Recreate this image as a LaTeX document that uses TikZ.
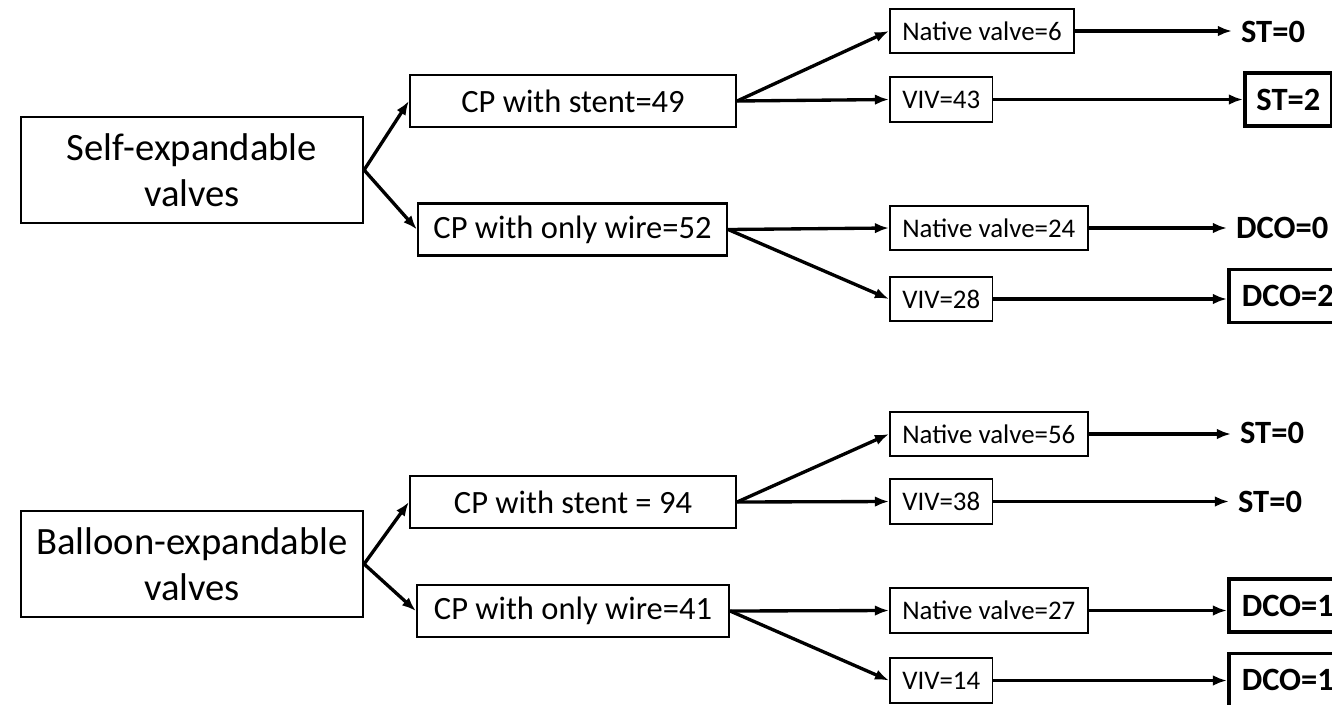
\documentclass[tikz,border=0pt]{standalone}
\usepackage{fontspec}
\setmainfont{Carlito}
\usetikzlibrary{arrows.meta}

\begin{document}
\begin{tikzpicture}[x=0.02cm,y=-0.02cm,
  typebox/.style={draw,line width=1.3pt,inner sep=0pt,align=center,
    minimum width=6.84cm,minimum height=2.12cm,font=\fontsize{22}{26}\selectfont},
  cpbox/.style={draw,line width=1.3pt,inner sep=0pt,minimum height=1.04cm,
    font=\fontsize{18.5}{22}\selectfont},
  subbox/.style={draw,line width=1.1pt,inner xsep=7pt,inner ysep=0pt,
    minimum height=0.89cm,font=\fontsize{15.3}{18}\selectfont},
  outtext/.style={inner xsep=5pt,inner ysep=0pt,
    font=\fontsize{18.5}{22}\selectfont\bfseries},
  outbox/.style={outtext,draw,line width=2.1pt,minimum height=1.06cm},
  link/.style={-{Latex[length=8pt,width=6pt]},line width=1.9pt}]
  \useasboundingbox (0,0) rectangle (1332,704);
  \clip (0,0) rectangle (1332,704);

  % Valve types
  \node[typebox] (self) at (192,170) {Self-expandable\\valves};
  \node[typebox] (balloon) at (192,564) {Balloon-expandable\\valves};

  % Cerebral protection
  \node[cpbox,minimum width=6.52cm] (stentA) at (573,101) {CP with stent=49};
  \node[cpbox,minimum width=6.18cm] (wireA) at (572.5,229.5) {CP with only wire=52};
  \node[cpbox,minimum width=6.52cm] (stentB) at (573,502) {CP with stent = 94};
  \node[cpbox,minimum width=6.24cm] (wireB) at (573,611) {CP with only wire=41};

  % Native valve or valve-in-valve
  \node[subbox,anchor=west] (nativeA) at (889,31) {Native valve=6};
  \node[subbox,anchor=west] (vivA) at (889,99.5) {VIV=43};
  \node[subbox,anchor=west] (nativeB) at (889,228) {Native valve=24};
  \node[subbox,anchor=west] (vivB) at (889,299) {VIV=28};
  \node[subbox,anchor=west] (nativeC) at (889,434) {Native valve=56};
  \node[subbox,anchor=west] (vivC) at (889,501.5) {VIV=38};
  \node[subbox,anchor=west] (nativeD) at (889,610.5) {Native valve=27};
  \node[subbox,anchor=west] (vivD) at (889,680.5) {VIV=14};

  % Outcomes
  \node[outtext,anchor=west] (stA) at (1232,32) {ST=0};
  \node[outbox,anchor=west,minimum width=1.74cm] (stB) at (1243,99.5) {ST=2};
  \node[outtext,anchor=west] (dcoA) at (1227,228) {DCO=0};
  \node[outbox,anchor=west,minimum width=2.36cm] (dcoB) at (1227,296) {DCO=2};
  \node[outtext,anchor=west] (stC) at (1231,433) {ST=0};
  \node[outtext,anchor=west] (stD) at (1229,502) {ST=0};
  \node[outbox,anchor=west,minimum width=2.36cm] (dcoC) at (1227,605.5) {DCO=1};
  \node[outbox,anchor=west,minimum width=2.36cm] (dcoD) at (1227,680) {DCO=1};

  % Branches
  \foreach \a/\b in {self/stentA,self/wireA,balloon/stentB,balloon/wireB,
      stentA/nativeA,stentA/vivA,wireA/nativeB,wireA/vivB,
      stentB/nativeC,stentB/vivC,wireB/nativeD,wireB/vivD} {
    \draw[link] (\a.east) -- (\b.west);
  }

  % To outcomes
  \foreach \a/\b in {nativeA/stA,vivA/stB,nativeB/dcoA,vivB/dcoB,
      nativeC/stC,vivC/stD,nativeD/dcoC,vivD/dcoD} {
    \draw[link] (\a.east) -- (\a.east -| \b.west);
  }
\end{tikzpicture}
\end{document}
